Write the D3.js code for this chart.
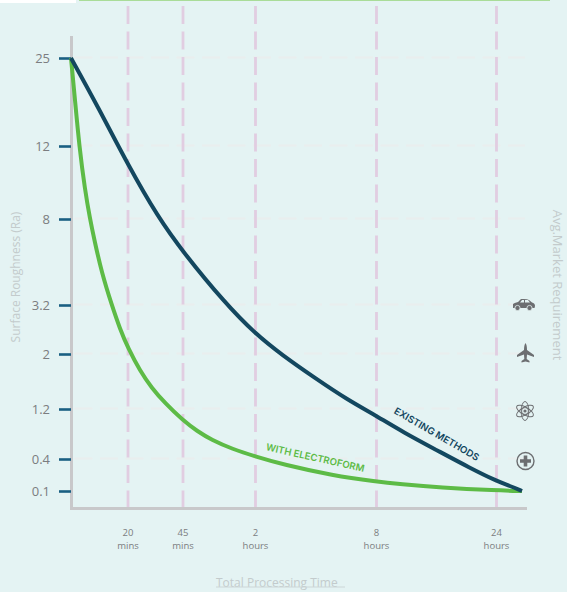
<!DOCTYPE html>
<html>
<head>
<meta charset="utf-8">
<script src="https://cdnjs.cloudflare.com/ajax/libs/d3/7.8.5/d3.min.js"></script>
<style>
html, body { margin: 0; padding: 0; background: #e4f3f3; overflow: hidden; }
svg { display: block; }
text { font-family: "Open Sans", sans-serif; }
</style>
</head>
<body>
<svg id="chart" width="567" height="592"></svg>
<script>
// roughness ticks and time ticks (time in minutes)
const roughnessTicks = [25, 12, 8, 3.2, 2, 1.2, 0.4, 0.1];
const timeTicks = [20, 45, 120, 480, 1440];
const timeLabels = [["20", "mins"], ["45", "mins"], ["2", "hours"], ["8", "hours"], ["24", "hours"]];

const existingTime = [0, 9.5, 20, 33.6, 45, 88.4, 120, 199, 297, 395, 480, 692, 964, 1228, 1440, 1548, 1644];
const existingRa = [25, 17.76, 10.96, 8.11, 6.16, 3.31, 2.49, 1.985, 1.65, 1.33, 1.09, 0.83, 0.54, 0.316, 0.194, 0.147, 0.1];

const electroTime = [0, 1.4, 2.9, 4.9, 6.67, 8.2, 10.8, 14.3, 17.2, 20, 25.5, 30.8, 36.8, 45, 59.5, 74.7, 96, 120, 202, 350, 480, 668, 988, 1440, 1644];
const electroRa = [25, 18.8, 12, 9.59, 8, 6.83, 4.99, 3.2, 2.612, 2.147, 1.753, 1.505, 1.287, 1.016, 0.848, 0.704, 0.56, 0.44, 0.348, 0.245, 0.189, 0.166, 0.133, 0.105, 0.1];

const requirementLevels = [3.2, 2, 1.2, 0.4];
const requirementIcons = ["car", "plane", "atom", "plus"];

const svg = d3.select("#chart");

// the axes of the original are not linear, so both scales are piecewise
const x = d3.scaleLinear()
    .domain([0, 20, 45, 120, 480, 1440, 1644])
    .range([71, 128, 183, 255.5, 376.5, 496.5, 522]);
const y = d3.scaleLinear()
    .domain(roughnessTicks)
    .range([58, 146, 219, 305, 354, 409, 459, 491]);

// strips at the very top
svg.append("rect").attr("x", 0).attr("y", 0).attr("width", 76).attr("height", 3).attr("fill", "#ffffff");
svg.append("rect").attr("x", 79).attr("y", 0).attr("width", 471).attr("height", 1).attr("fill", "#a9dc98");

// Grid
svg.append("g").selectAll("line")
    .data(requirementLevels.concat([25, 12, 8]))
    .join("line")
    .attr("x1", 74.5).attr("x2", 525)
    .attr("y1", d => y(d) - 0.5).attr("y2", d => y(d) - 0.5)
    .attr("stroke", "#e9eeee")
    .attr("stroke-width", 2)
    .attr("stroke-dasharray", "18 7.5");

svg.append("g").selectAll("line")
    .data(timeTicks)
    .join("line")
    .attr("x1", d => x(d)).attr("x2", d => x(d))
    .attr("y1", 6).attr("y2", 508)
    .attr("stroke", "#e1cde1")
    .attr("stroke-width", 2.8)
    .attr("stroke-dasharray", "18 7.5");

// Axes
svg.append("line").attr("x1", 71.5).attr("x2", 71.5).attr("y1", 36).attr("y2", 509)
    .attr("stroke", "#c8c8ca").attr("stroke-width", 3);
svg.append("line").attr("x1", 70).attr("x2", 527).attr("y1", 508.5).attr("y2", 508.5)
    .attr("stroke", "#c8c8ca").attr("stroke-width", 3);

const yAxis = svg.append("g")
    .attr("transform", "translate(71,0)")
    .call(d3.axisLeft(y).tickValues(roughnessTicks).tickSize(12).tickPadding(9).tickFormat(d => d));
yAxis.select(".domain").remove();
yAxis.selectAll(".tick line").attr("stroke", "#1a5f82").attr("stroke-width", 2.6);
yAxis.selectAll(".tick text")
    .attr("fill", "#7b7d80")
    .style("font-size", "13px")
    .style("font-family", '"Open Sans", sans-serif');

const xLabels = svg.append("g").selectAll("text")
    .data(timeTicks)
    .join("text")
    .attr("text-anchor", "middle")
    .attr("fill", "#7b7d80")
    .style("font-size", "9.5px");
xLabels.append("tspan").attr("x", d => x(d)).attr("y", 536).text((d, i) => timeLabels[i][0]);
xLabels.append("tspan").attr("x", d => x(d)).attr("y", 549).text((d, i) => timeLabels[i][1]);

// Curves
const line = d3.line()
    .x(d => x(d[0]))
    .y(d => y(d[1]))
    .curve(d3.curveBasis);

svg.append("path")
    .attr("d", line(d3.zip(electroTime, electroRa)))
    .attr("fill", "none")
    .attr("stroke", "#5dbb46")
    .attr("stroke-width", 4);
svg.append("path")
    .attr("d", line(d3.zip(existingTime, existingRa)))
    .attr("fill", "none")
    .attr("stroke", "#13475f")
    .attr("stroke-width", 4);

// Curve labels
svg.append("text")
    .attr("transform", "translate(435,437) rotate(30)")
    .attr("text-anchor", "middle")
    .attr("fill", "#13475f")
    .style("font-family", "Inter, sans-serif")
    .style("font-weight", "600")
    .style("font-size", "9.6px")
    .text("EXISTING METHODS");
svg.append("text")
    .attr("transform", "translate(314.5,461) rotate(12.5)")
    .attr("text-anchor", "middle")
    .attr("fill", "#5dbb46")
    .style("font-family", "Inter, sans-serif")
    .style("font-weight", "600")
    .style("font-size", "9.6px")
    .text("WITH ELECTROFORM");

// Axis titles
svg.append("text")
    .attr("transform", "translate(20,277) rotate(-90)")
    .attr("text-anchor", "middle")
    .attr("fill", "#c3cbcc")
    .style("font-size", "12px")
    .text("Surface Roughness (Ra)");
svg.append("text")
    .attr("transform", "translate(552.5,285) rotate(90)")
    .attr("text-anchor", "middle")
    .attr("fill", "#c3cbcc")
    .style("font-size", "13px")
    .text("Avg.Market Requirement");
svg.append("text")
    .attr("x", 216).attr("y", 587)
    .attr("fill", "#c3cbcc")
    .style("font-size", "12px")
    .text("Total Processing Time");
svg.append("line").attr("x1", 216).attr("x2", 345).attr("y1", 587).attr("y2", 587)
    .attr("stroke", "#ccd6d7").attr("stroke-width", 1);

// Requirement icons
const iconColor = "#6c6e71";
const icons = svg.append("g").selectAll("g")
    .data(requirementLevels)
    .join("g")
    .attr("transform", d => `translate(525,${y(d)})`);

icons.each(function(d, i) {
    const g = d3.select(this);
    const kind = requirementIcons[i];
    if (kind === "car") {
        g.attr("transform", `translate(524,${y(d)})`);
        g.append("path").attr("fill", iconColor)
            .attr("d", "M-11,3 L-11,-1 Q-10,-2 -6,-3 L-3,-6 Q3,-6.5 5,-5 L8,-2.5 Q11,-2 11,1 L10.5,3 Z");
        g.append("path").attr("fill", "#e4f3f3").attr("d", "M-4,-2.6 L-2,-5 L0,-5 L0,-2.6 Z M1,-2.6 L1,-5 L4,-5 L6,-2.6 Z");
        g.selectAll("circle").data([-6.5, 5.5]).join("circle")
            .attr("cx", c => c).attr("cy", 3).attr("r", 2.6)
            .attr("fill", iconColor).attr("stroke", "#e4f3f3").attr("stroke-width", 0.8);
    }
    if (kind === "plane") {
        g.attr("transform", `translate(525.5,${y(d) - 1})`);
        g.append("path").attr("fill", iconColor)
            .attr("d", "M0,-10 Q1.5,-8 1.5,-3 L8.5,2 L8.5,4 L1.5,1.5 L1.2,6 L4,8 L4,9.5 L0,8.5 L-4,9.5 L-4,8 L-1.2,6 L-1.5,1.5 L-8.5,4 L-8.5,2 L-1.5,-3 Q-1.5,-8 0,-10 Z");
    }
    if (kind === "atom") {
        g.attr("transform", `translate(525,${y(d) + 2})`);
        g.selectAll("ellipse").data([90, 30, 150]).join("ellipse")
            .attr("rx", 9.5).attr("ry", 3.8)
            .attr("transform", a => `rotate(${a})`)
            .attr("fill", "none").attr("stroke", iconColor).attr("stroke-width", 1);
        g.append("circle").attr("r", 1.6).attr("fill", iconColor);
        g.append("circle").attr("r", 3.4).attr("fill", "none").attr("stroke", iconColor).attr("stroke-width", 0.7);
    }
    if (kind === "plus") {
        g.attr("transform", `translate(525.5,${y(d) + 2})`);
        g.append("circle").attr("r", 8.5).attr("fill", "none").attr("stroke", iconColor).attr("stroke-width", 1.4);
        g.append("path").attr("fill", iconColor)
            .attr("d", "M-1.8,-5.5 H1.8 V-1.8 H5.5 V1.8 H1.8 V5.5 H-1.8 V1.8 H-5.5 V-1.8 H-1.8 Z");
    }
});
</script>
</body>
</html>
